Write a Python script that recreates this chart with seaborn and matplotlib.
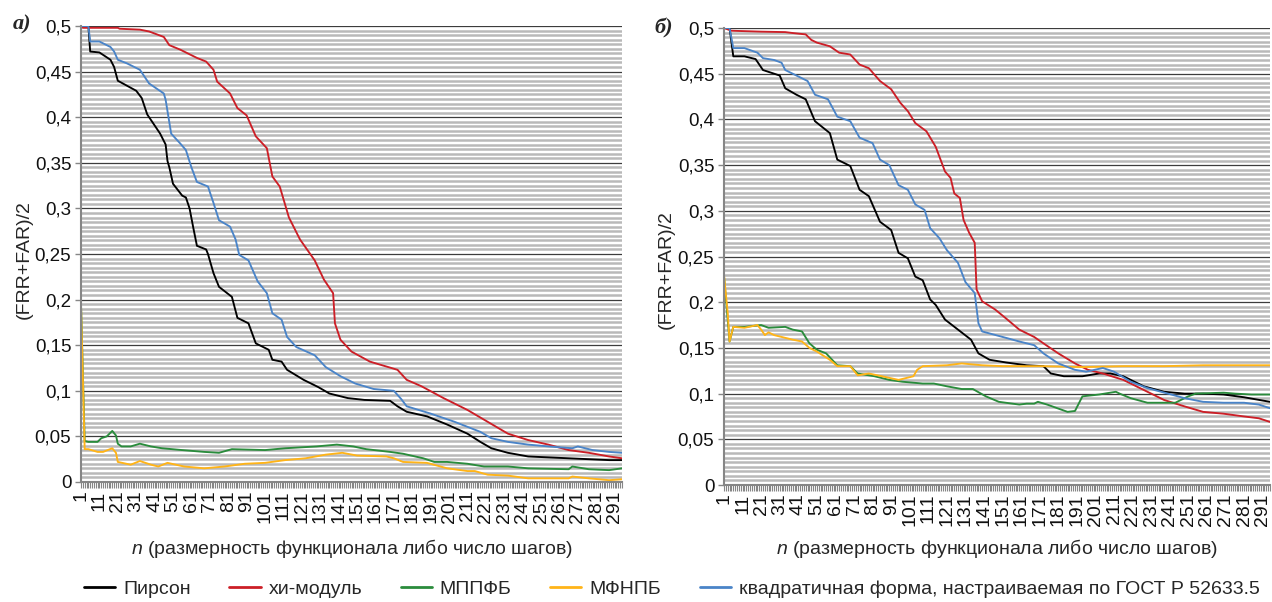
import numpy as np
import pandas as pd
import matplotlib
matplotlib.use("Agg")
import matplotlib.pyplot as plt
from matplotlib.lines import Line2D
from matplotlib.ticker import MultipleLocator, FixedLocator
import seaborn as sns

# ---- data (n, (FRR+FAR)/2) ----
series_names = ["Пирсон", "хи-модуль", "МППФБ", "МФНПБ",
                "квадратичная форма, настраиваемая по ГОСТ Р 52633.5"]
series_colors = ["#000000", "#cc1f27", "#2a8c3c", "#ffb418", "#4a84c8"]

# panel a)
pearson_n_a = [1, 5, 6, 11, 17, 19, 21, 31, 34, 37, 44, 47, 48, 49, 51, 56, 58, 60, 62, 64, 69, 70,
               73, 76, 83, 86, 92, 96, 103, 105, 110, 113, 122, 130, 136, 146, 155, 169, 173, 178,
               189, 200, 211, 218, 224, 233, 244, 266, 288, 295]
pearson_v_a = [0.500, 0.500, 0.472, 0.471, 0.463, 0.455, 0.440, 0.429, 0.421, 0.403, 0.382, 0.370,
               0.352, 0.345, 0.327, 0.314, 0.312, 0.300, 0.279, 0.259, 0.255, 0.250, 0.229, 0.214,
               0.203, 0.180, 0.174, 0.152, 0.145, 0.134, 0.132, 0.123, 0.112, 0.104, 0.097, 0.092,
               0.090, 0.089, 0.083, 0.077, 0.072, 0.063, 0.053, 0.044, 0.037, 0.032, 0.028, 0.026,
               0.024, 0.024]

chi_n_a = [1, 2, 21, 22, 33, 38, 46, 49, 55, 59, 64, 69, 73, 75, 82, 86, 91, 96, 102, 105, 109,
           114, 120, 128, 133, 138, 139, 142, 148, 158, 173, 178, 186, 198, 211, 222, 233, 244,
           255, 266, 277, 288, 295]
chi_v_a = [0.500, 0.498, 0.498, 0.497, 0.496, 0.494, 0.488, 0.479, 0.474, 0.470, 0.465, 0.461,
           0.452, 0.439, 0.426, 0.410, 0.402, 0.379, 0.366, 0.335, 0.324, 0.290, 0.266, 0.243,
           0.222, 0.207, 0.174, 0.156, 0.143, 0.132, 0.123, 0.112, 0.105, 0.092, 0.079, 0.066,
           0.053, 0.046, 0.041, 0.035, 0.032, 0.028, 0.026]

mppfb_n_a = [1, 3, 5, 10, 12, 15, 18, 20, 21, 23, 28, 33, 39, 45, 56, 68, 76, 83, 101, 112, 129,
             140, 149, 156, 169, 176, 187, 193, 200, 211, 220, 233, 244, 266, 268, 277, 288, 295]
mppfb_v_a = [0.195, 0.045, 0.044, 0.044, 0.048, 0.050, 0.056, 0.051, 0.042, 0.039, 0.039, 0.042,
             0.039, 0.037, 0.035, 0.033, 0.032, 0.036, 0.035, 0.037, 0.039, 0.041, 0.039, 0.036,
             0.033, 0.031, 0.026, 0.022, 0.022, 0.020, 0.017, 0.017, 0.015, 0.014, 0.017, 0.014,
             0.013, 0.015]

mfnpb_n_a = [1, 3, 5, 10, 13, 18, 20, 21, 28, 33, 39, 43, 48, 57, 68, 79, 90, 101, 112, 123, 134,
             143, 151, 167, 171, 176, 189, 200, 211, 215, 222, 233, 244, 266, 268, 277, 288, 295]
mfnpb_v_a = [0.195, 0.036, 0.036, 0.033, 0.033, 0.037, 0.032, 0.022, 0.019, 0.023, 0.019, 0.017,
             0.021, 0.017, 0.015, 0.017, 0.020, 0.021, 0.024, 0.026, 0.030, 0.032, 0.029, 0.028,
             0.026, 0.022, 0.021, 0.015, 0.012, 0.012, 0.008, 0.007, 0.004, 0.004, 0.006, 0.004,
             0.002, 0.003]

quad_n_a = [1, 5, 6, 11, 17, 19, 21, 26, 33, 38, 46, 47, 50, 55, 58, 61, 64, 70, 73, 76, 82, 85,
            87, 92, 97, 102, 105, 110, 113, 118, 128, 134, 142, 150, 160, 171, 175, 178, 191, 204,
            218, 224, 233, 244, 255, 268, 271, 279, 288, 295]
quad_v_a = [0.500, 0.500, 0.483, 0.483, 0.477, 0.472, 0.463, 0.459, 0.452, 0.437, 0.426, 0.419,
            0.382, 0.371, 0.364, 0.345, 0.329, 0.324, 0.306, 0.287, 0.280, 0.266, 0.249, 0.243,
            0.220, 0.207, 0.185, 0.178, 0.159, 0.148, 0.139, 0.126, 0.116, 0.108, 0.102, 0.100,
            0.091, 0.083, 0.075, 0.066, 0.055, 0.048, 0.044, 0.041, 0.039, 0.037, 0.039, 0.035,
            0.033, 0.032]

# panel б)
pearson_n_b = [1, 4, 6, 12, 18, 22, 31, 34, 40, 45, 50, 58, 62, 69, 74, 79, 85, 91, 95, 100, 104,
               108, 112, 115, 120, 127, 134, 138, 144, 153, 164, 173, 177, 184, 194, 203, 209, 216,
               227, 238, 249, 259, 270, 281, 295]
pearson_v_b = [0.500, 0.500, 0.469, 0.469, 0.466, 0.454, 0.448, 0.434, 0.427, 0.422, 0.398, 0.385,
               0.356, 0.349, 0.323, 0.316, 0.288, 0.279, 0.254, 0.248, 0.228, 0.224, 0.203, 0.197,
               0.181, 0.170, 0.159, 0.144, 0.137, 0.134, 0.131, 0.130, 0.122, 0.119, 0.119, 0.122,
               0.122, 0.119, 0.108, 0.102, 0.100, 0.100, 0.099, 0.096, 0.091]

chi_n_b = [1, 5, 21, 34, 38, 45, 48, 51, 58, 63, 69, 74, 79, 85, 91, 96, 100, 104, 110, 115, 120,
           123, 125, 128, 130, 133, 136, 137, 140, 147, 153, 160, 168, 173, 181, 190, 197, 205, 216,
           227, 238, 249, 259, 270, 281, 289, 295]
chi_v_b = [0.500, 0.497, 0.496, 0.4955, 0.4945, 0.493, 0.487, 0.484, 0.480, 0.473, 0.471, 0.460,
           0.456, 0.442, 0.433, 0.418, 0.409, 0.396, 0.387, 0.370, 0.343, 0.336, 0.319, 0.314,
           0.290, 0.276, 0.265, 0.214, 0.201, 0.192, 0.182, 0.170, 0.162, 0.155, 0.144, 0.133,
           0.126, 0.122, 0.115, 0.104, 0.093, 0.086, 0.080, 0.078, 0.075, 0.073, 0.069]

mppfb_n_b = [1, 4, 6, 12, 21, 25, 34, 38, 43, 47, 51, 56, 62, 69, 73, 82, 90, 97, 108, 114, 121,
             129, 135, 142, 149, 160, 164, 168, 170, 175, 186, 190, 194, 203, 212, 214, 220, 229,
             240, 244, 251, 255, 270, 276, 285, 295]
mppfb_v_b = [0.228, 0.157, 0.173, 0.173, 0.175, 0.172, 0.173, 0.170, 0.168, 0.155, 0.148, 0.144,
             0.131, 0.130, 0.122, 0.119, 0.115, 0.113, 0.111, 0.111, 0.108, 0.105, 0.105, 0.097,
             0.091, 0.088, 0.089, 0.089, 0.091, 0.088, 0.080, 0.081, 0.097, 0.099, 0.102, 0.100,
             0.095, 0.090, 0.090, 0.090, 0.097, 0.100, 0.101, 0.100, 0.099, 0.099]

mfnpb_n_b = [1, 3, 4, 6, 12, 19, 21, 23, 25, 28, 34, 38, 43, 47, 51, 58, 62, 69, 73, 79, 86, 95,
             99, 103, 105, 108, 121, 129, 140, 151, 173, 194, 216, 238, 259, 281, 295]
mfnpb_v_b = [0.230, 0.188, 0.157, 0.173, 0.172, 0.175, 0.170, 0.164, 0.167, 0.164, 0.161, 0.159,
             0.157, 0.150, 0.146, 0.137, 0.130, 0.130, 0.120, 0.122, 0.119, 0.115, 0.117, 0.119,
             0.126, 0.130, 0.131, 0.133, 0.131, 0.130, 0.130, 0.129, 0.130, 0.130, 0.131, 0.131,
             0.131]

quad_n_b = [1, 4, 6, 12, 19, 22, 28, 32, 34, 39, 46, 50, 57, 62, 69, 74, 81, 85, 90, 95, 100, 104,
            109, 112, 117, 121, 127, 131, 136, 138, 140, 151, 160, 168, 173, 181, 190, 196, 205,
            211, 220, 229, 240, 249, 259, 270, 281, 289, 295]
quad_v_b = [0.500, 0.500, 0.478, 0.478, 0.473, 0.467, 0.465, 0.462, 0.454, 0.449, 0.442, 0.427,
            0.422, 0.403, 0.398, 0.380, 0.374, 0.356, 0.350, 0.328, 0.323, 0.307, 0.301, 0.281,
            0.270, 0.257, 0.243, 0.222, 0.210, 0.177, 0.168, 0.162, 0.157, 0.153, 0.144, 0.133,
            0.126, 0.124, 0.128, 0.124, 0.113, 0.106, 0.100, 0.095, 0.091, 0.090, 0.090, 0.088,
            0.084]

n_max = 295
tick_labels = [str(k) for k in range(1, n_max, 10)]
ytick_values = [0, 0.05, 0.1, 0.15, 0.2, 0.25, 0.3, 0.35, 0.4, 0.45, 0.5]


def to_frame(pairs):
    parts = []
    for name, (nn, vv) in zip(series_names, pairs):
        parts.append(pd.DataFrame({"n": nn, "v": vv, "series": name}))
    return pd.concat(parts, ignore_index=True)


df_a = to_frame([(pearson_n_a, pearson_v_a), (chi_n_a, chi_v_a), (mppfb_n_a, mppfb_v_a),
                 (mfnpb_n_a, mfnpb_v_a), (quad_n_a, quad_v_a)])
df_b = to_frame([(pearson_n_b, pearson_v_b), (chi_n_b, chi_v_b), (mppfb_n_b, mppfb_v_b),
                 (mfnpb_n_b, mfnpb_v_b), (quad_n_b, quad_v_b)])

sns.set_theme(style="white")
plt.rcParams["font.family"] = ["Liberation Sans", "DejaVu Sans"]
plt.rcParams["mathtext.fontset"] = "custom"
plt.rcParams["mathtext.it"] = "Liberation Sans:italic"
plt.rcParams["mathtext.rm"] = "Liberation Sans"
narrow = ["Liberation Sans Narrow", "Liberation Sans", "DejaVu Sans"]

W, H = 1272, 602
fig = plt.figure(figsize=(W / 100, H / 100), dpi=100)
ax_a = fig.add_axes([81 / W, 1 - 482 / H, 541 / W, 456 / H])
ax_b = fig.add_axes([724 / W, 1 - 485 / H, 546 / W, 457 / H])

palette = dict(zip(series_names, series_colors))

for ax, df in [(ax_a, df_a), (ax_b, df_b)]:
    sns.lineplot(data=df, x="n", y="v", hue="series", hue_order=series_names,
                 palette=palette, estimator=None, sort=False, legend=False,
                 linewidth=1.35, ax=ax, zorder=3)
    ax.set_xlim(1, n_max)
    ax.set_ylim(0, 0.5)
    ax.set_xlabel("")
    ax.set_ylabel("")

    ax.yaxis.set_major_locator(FixedLocator(ytick_values))
    ax.yaxis.set_minor_locator(MultipleLocator(0.005))
    ax.set_yticklabels([("%g" % t).replace(".", ",") for t in ytick_values],
                       family=narrow, fontsize=13.5)
    ax.grid(True, axis="y", which="minor", color="#b9b9b9", linewidth=1.8, zorder=0)
    ax.grid(True, axis="y", which="major", color="#3c3c3c", linewidth=0.9, zorder=1)
    ax.grid(False, axis="x")

    ax.xaxis.set_major_locator(FixedLocator(range(1, n_max, 10)))
    ax.xaxis.set_minor_locator(MultipleLocator(1))
    ax.set_xticklabels(tick_labels, rotation=90, family=narrow, fontsize=14)

    ax.tick_params(axis="y", which="major", left=True, length=4, width=1,
                   color="#868686", pad=3, labelcolor="#111111")
    ax.tick_params(axis="y", which="minor", left=False)
    ax.tick_params(axis="x", which="both", bottom=True, length=4, width=0.8,
                   color="#868686", pad=2, labelcolor="#111111")

    for side in ["top", "right"]:
        ax.spines[side].set_visible(False)
    for side in ["left", "bottom"]:
        ax.spines[side].set_color("#868686")
        ax.spines[side].set_linewidth(1.5)
        ax.spines[side].set_zorder(4)

# axis labels and panel marks
xlabel = r"$n$ (размерность функционала либо число шагов)"
fig.text((81 + 622) / 2 / W, 1 - 548 / H, xlabel, ha="center", va="center", fontsize=14)
fig.text((724 + 1270) / 2 / W, 1 - 548 / H, xlabel, ha="center", va="center", fontsize=14)
fig.text(24 / W, 1 - 260 / H, "(FRR+FAR)/2", rotation=90, ha="center", va="center", fontsize=14)
fig.text(666 / W, 1 - 270 / H, "(FRR+FAR)/2", rotation=90, ha="center", va="center", fontsize=14)
fig.text(22 / W, 1 - 24 / H, "а)", ha="center", va="center", fontsize=16, weight="bold",
         family=["Liberation Serif", "DejaVu Serif"], style="italic")
fig.text(664 / W, 1 - 28 / H, "б)", ha="center", va="center", fontsize=16, weight="bold",
         family=["Liberation Serif", "DejaVu Serif"], style="italic")

handles = [Line2D([], [], color=c, linewidth=2) for c in series_colors]
fig.legend(handles, series_names, loc="center left", bbox_to_anchor=(84 / W, 1 - 589 / H),
           ncol=5, frameon=False, fontsize=14, handlelength=1.6, handletextpad=0.4,
           columnspacing=2.0, borderaxespad=0, borderpad=0)

fig.savefig("out.png", dpi=100)
plt.close(fig)
